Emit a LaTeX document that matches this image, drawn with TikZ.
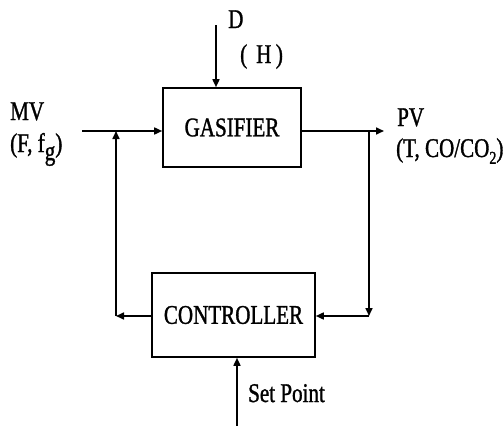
\documentclass[tikz,border=0pt]{standalone}
\usepackage{fontspec}
\setmainfont{Liberation Serif}[FakeStretch=0.78,FakeBold=1.2]
\usetikzlibrary{arrows.meta}
\begin{document}
\begin{tikzpicture}[x=1pt,y=1pt,
  blk/.style={draw,line width=1.6pt,inner sep=0pt,font=\fontsize{27}{30}\selectfont},
  lbl/.style={inner sep=0pt,anchor=base west,font=\fontsize{27}{30}\selectfont},
  conn/.style={line width=1.6pt},
  arr/.style={conn,-{Triangle[length=8pt,width=7pt]}}]
\useasboundingbox (0,0) rectangle (504,-426);
\node[blk,minimum width=138pt,minimum height=79pt] (gas) at (232,-127.5) {GASIFIER};
\node[blk,minimum width=163pt,minimum height=84pt] (ctrl) at (233.5,-315) {CONTROLLER};
\coordinate (in) at (82,-131);
\coordinate (jl) at (116,-131);
\coordinate (cl) at (116,-316);
\coordinate (jr) at (369,-131);
\coordinate (cr) at (369,-316);
\coordinate (out) at (384,-131);
\coordinate (dtop) at (216,-25);
\coordinate (sp) at (237,-426);
\draw[arr] (in) -- (in -| gas.west);
\draw[arr] (jr -| gas.east) -- (out);
\draw[arr] (jr) -- (cr);
\draw[arr] (cr) -- (cr -| ctrl.east);
\draw[arr] (cl -| ctrl.west) -- (cl);
\draw[arr] (cl) -- (jl);
\draw[arr] (dtop) -- (dtop |- gas.north);
\draw[arr] (sp) -- (sp |- ctrl.south);
\node[lbl] (mv) at (10,-120) {MV};
\node[lbl] (mvv) at (10,-152) {(F, f\raisebox{-0.3em}{g})};
\node[lbl] (pv) at (397,-126) {PV};
\node[lbl] (pvv) at (396,-157) {(T, CO/CO\raisebox{-0.25em}{\fontsize{18}{20}\selectfont 2})};
\node[lbl] (d) at (228,-28) {D};
\node[lbl] (h) at (240,-63) {(\,\,H\,)};
\node[lbl] (setp) at (248,-402) {Set Point};
\end{tikzpicture}
\end{document}
